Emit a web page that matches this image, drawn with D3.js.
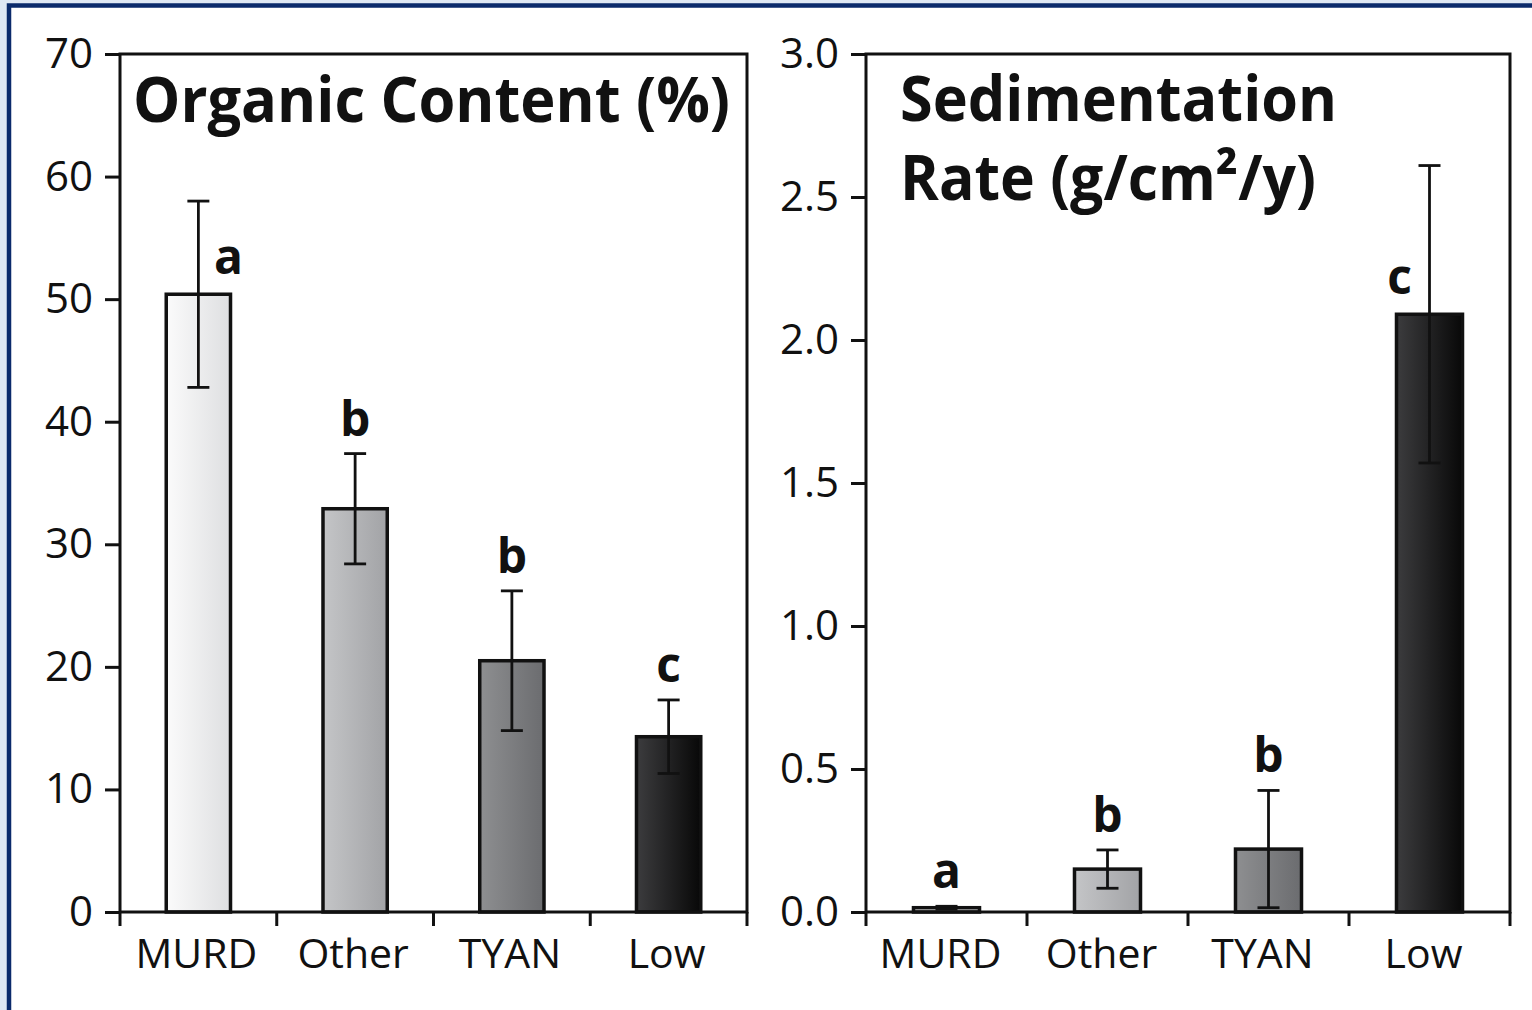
<!DOCTYPE html>
<html>
<head>
<meta charset="utf-8">
<script src="https://cdn.jsdelivr.net/npm/d3@7"></script>
<style>
  html, body { margin: 0; padding: 0; background: #dfe8f4; }
  svg { display: block; }
  text { font-family: "Open Sans", "Noto Sans", sans-serif; fill: #111; }
</style>
</head>
<body>
<svg id="figure" width="1532" height="1010"></svg>
<script>
const categories = ["MURD", "Other", "TYAN", "Low"];

const organicMean = [50.4, 32.9, 20.5, 14.3];
const organicErr = [7.6, 4.5, 5.7, 3.0];
const organicLetters = ["a", "b", "b", "c"];
const organicTicks = [0, 10, 20, 30, 40, 50, 60, 70];

const sedMean = [0.015, 0.15, 0.22, 2.09];
const sedErr = [0.005, 0.067, 0.205, 0.52];
const sedLetters = ["a", "b", "b", "c"];
const sedTicks = [0, 0.5, 1.0, 1.5, 2.0, 2.5, 3.0];

// left -> right shading of each bar
const barShades = [
    ["#fbfbfb", "#dedfe1"],
    ["#c4c5c7", "#a2a3a6"],
    ["#8e8f91", "#6b6c6f"],
    ["#3c3c3e", "#080808"]
];

const svg = d3.select("#figure");

// outer frame
svg.append("rect")
    .attr("x", 9).attr("y", 5.5)
    .attr("width", 2000).attr("height", 2000)
    .attr("fill", "#fff")
    .attr("stroke", "#0b2a6b")
    .attr("stroke-width", 4.5);

const defs = svg.append("defs");
barShades.forEach((c, i) => {
    const g = defs.append("linearGradient")
        .attr("id", "shade" + i)
        .attr("x1", "0%").attr("x2", "100%")
        .attr("y1", "0%").attr("y2", "0%");
    g.append("stop").attr("offset", "0%").attr("stop-color", c[0]);
    g.append("stop").attr("offset", "100%").attr("stop-color", c[1]);
});

function drawPanel(opts) {
    const { left, right, top, bottom, means, errs, letters, ticks, maxY, fmt, side, labelShift } = opts;
    const g = svg.append("g");

    const x = d3.scaleBand()
        .domain(categories)
        .range([left, right])
        .padding(0);

    const y = d3.scaleLinear()
        .domain([0, maxY])
        .range([bottom, top]);

    const data = categories.map((c, i) => ({
        cat: c, i: i, mean: means[i], err: errs[i], letter: letters[i]
    }));

    const bw = x.bandwidth() * 0.41;
    const cx = d => x(d.cat) + x.bandwidth() / 2;

    // bars
    g.selectAll("rect.bar")
        .data(data)
        .enter().append("rect")
        .attr("class", "bar")
        .attr("x", d => cx(d) - bw / 2)
        .attr("width", bw)
        .attr("y", d => y(d.mean))
        .attr("height", d => y(0) - y(d.mean))
        .attr("fill", d => `url(#shade${d.i})`)
        .attr("stroke", "#111")
        .attr("stroke-width", 3.5);

    // error bars
    const eb = g.selectAll("g.err")
        .data(data)
        .enter().append("g")
        .attr("class", "err")
        .attr("stroke", "#111")
        .attr("stroke-width", 2.8);

    eb.append("line")
        .attr("x1", cx).attr("x2", cx)
        .attr("y1", d => y(d.mean - d.err))
        .attr("y2", d => y(d.mean + d.err));
    eb.append("line")
        .attr("x1", d => cx(d) - 11).attr("x2", d => cx(d) + 11)
        .attr("y1", d => y(d.mean + d.err))
        .attr("y2", d => y(d.mean + d.err));
    eb.append("line")
        .attr("x1", d => cx(d) - 11).attr("x2", d => cx(d) + 11)
        .attr("y1", d => y(d.mean - d.err))
        .attr("y2", d => y(d.mean - d.err));

    // significance letters
    g.selectAll("text.sig")
        .data(data)
        .enter().append("text")
        .attr("class", "sig")
        .attr("x", d => cx(d) + side[d.i] * 30)
        .attr("y", d => side[d.i] === 0 ? y(d.mean + d.err) - 18 : y(d.mean) - 20)
        .attr("text-anchor", "middle")
        .style("font-size", "48px")
        .style("font-weight", "bold")
        .attr("fill", "#000")
        .text(d => d.letter);

    // y axis
    const yAxis = d3.axisLeft(y)
        .tickValues(ticks)
        .tickFormat(fmt)
        .tickSize(15)
        .tickPadding(12);

    const ya = g.append("g")
        .attr("transform", `translate(${left},0)`)
        .call(yAxis);
    ya.select(".domain").remove();
    ya.selectAll(".tick line").attr("stroke", "#111").attr("stroke-width", 3);
    ya.selectAll(".tick text")
        .style("font-family", "'Open Sans', sans-serif")
        .style("font-size", "42px")
        .attr("fill", "#222");

    // x axis: ticks between categories
    const bounds = categories.map(c => x(c)).concat([right]);
    g.selectAll("line.xtick")
        .data(bounds)
        .enter().append("line")
        .attr("class", "xtick")
        .attr("x1", d => d).attr("x2", d => d)
        .attr("y1", bottom).attr("y2", bottom + 14)
        .attr("stroke", "#111")
        .attr("stroke-width", 3);

    g.selectAll("text.cat")
        .data(categories)
        .enter().append("text")
        .attr("class", "cat")
        .attr("x", d => x(d) + x.bandwidth() / 2 + labelShift)
        .attr("y", bottom + 56)
        .attr("text-anchor", "middle")
        .style("font-size", "41px")
        .attr("fill", "#222")
        .text(d => d);

    // plot frame
    g.append("rect")
        .attr("x", left).attr("y", top)
        .attr("width", right - left).attr("height", bottom - top)
        .attr("fill", "none")
        .attr("stroke", "#111")
        .attr("stroke-width", 3);

    return g;
}

const leftPanel = drawPanel({
    left: 120, right: 747, top: 54, bottom: 912,
    means: organicMean, errs: organicErr, letters: organicLetters,
    ticks: organicTicks, maxY: 70, fmt: d3.format("d"),
    side: [1, 0, 0, 0], labelShift: -2
});

const rightPanel = drawPanel({
    left: 866, right: 1510, top: 54, bottom: 912,
    means: sedMean, errs: sedErr, letters: sedLetters,
    ticks: sedTicks, maxY: 3, fmt: d3.format(".1f"),
    side: [0, 0, 0, -1], labelShift: -6
});

function title(x, y, width, str) {
    svg.append("text")
        .attr("x", x).attr("y", y)
        .attr("textLength", width)
        .attr("lengthAdjust", "spacingAndGlyphs")
        .style("font-size", "62px")
        .style("font-weight", "bold")
        .attr("fill", "#000")
        .text(str);
}

title(133, 122, 597, "Organic Content (%)");
title(900, 121, 437, "Sedimentation");
title(900, 200, 416, "Rate (g/cm²/y)");
</script>
</body>
</html>
